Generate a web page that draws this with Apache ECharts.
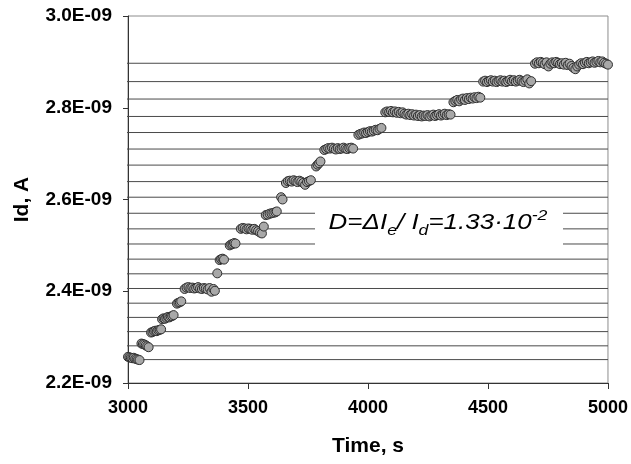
<!DOCTYPE html>
<html>
<head>
<meta charset="utf-8">
<script src="https://cdn.jsdelivr.net/npm/echarts@6/dist/echarts.min.js"></script>
<style>
  html, body { margin: 0; padding: 0; background: #fff; }
  #chart { width: 631px; height: 464px; }
</style>
</head>
<body>
<div id="chart"></div>
<script>
// time, s  (one row per current step)
const timeS = [
  3000, 3006, 3012, 3018, 3024, 3030, 3036, 3042, 3048,
  3056, 3062, 3068, 3074, 3080, 3086,
  3096, 3102, 3108, 3114, 3120, 3126, 3132, 3138,
  3142, 3148, 3154, 3160, 3166, 3172, 3178, 3184, 3190,
  3204, 3210, 3216, 3222,
  3236, 3244, 3252, 3260, 3268, 3276, 3284, 3292, 3300, 3308, 3316, 3324, 3332, 3340, 3348, 3356, 3362,
  3372,
  3382, 3388, 3394, 3400,
  3424, 3430, 3436, 3442, 3448,
  3470, 3478, 3486, 3494, 3502, 3510, 3518, 3526, 3534, 3542, 3550, 3558, 3566,
  3574, 3582, 3590, 3598, 3606, 3614, 3620,
  3638, 3644,
  3658, 3666, 3674, 3682, 3690, 3698, 3706, 3714, 3722, 3730, 3738, 3746, 3754, 3762,
  3784, 3790, 3796, 3802,
  3818, 3826, 3834, 3842, 3850, 3858, 3866, 3874, 3882, 3890, 3898, 3906, 3914, 3922, 3930, 3938,
  3960, 3968, 3976, 3984, 3992, 4000, 4008, 4016, 4024, 4032, 4040, 4048, 4056,
  4072, 4080, 4088, 4096, 4104, 4112, 4120, 4128, 4136, 4144, 4152, 4160, 4168, 4176, 4184, 4192, 4200, 4208,
  4216, 4224, 4232, 4240, 4248, 4256, 4264, 4272, 4280, 4288, 4296, 4304, 4312, 4320, 4328, 4336, 4344,
  4356, 4364, 4372, 4380, 4388, 4396, 4404, 4412, 4420, 4428, 4436, 4444, 4452, 4460, 4468,
  4480, 4488, 4496, 4504, 4512, 4520, 4528, 4536, 4544, 4552, 4560, 4568, 4576, 4584, 4592, 4600, 4608,
  4616, 4624, 4632, 4640, 4648, 4656, 4664, 4672, 4680,
  4696, 4704, 4712, 4720, 4728, 4736, 4744, 4752, 4760, 4768, 4776, 4784, 4792, 4800, 4808, 4816, 4824, 4832,
  4840, 4848, 4856, 4864, 4872, 4880, 4888, 4896, 4904, 4912, 4920, 4928, 4936, 4944, 4952, 4960, 4968, 4976,
  4984, 4992, 5000
]

// Id in units of 1E-09 A, same order as timeS
const idNanoA = [
  2.257, 2.256, 2.255, 2.254, 2.255, 2.253, 2.252, 2.251, 2.250,
  2.286, 2.285, 2.284, 2.282, 2.280, 2.278,
  2.310, 2.311, 2.313, 2.314, 2.313, 2.315, 2.316, 2.317,
  2.339, 2.341, 2.340, 2.342, 2.344, 2.343, 2.345, 2.346, 2.348,
  2.373, 2.375, 2.376, 2.378,
  2.405, 2.408, 2.409, 2.407, 2.408, 2.406, 2.407, 2.409, 2.406, 2.405, 2.407, 2.406, 2.404, 2.407, 2.399, 2.405, 2.401,
  2.439,
  2.468, 2.470, 2.471, 2.469,
  2.500, 2.502, 2.503, 2.505, 2.504,
  2.536, 2.538, 2.537, 2.535, 2.537, 2.536, 2.534, 2.536, 2.533, 2.531, 2.528, 2.526, 2.541,
  2.566, 2.567, 2.569, 2.570, 2.571, 2.572, 2.574,
  2.605, 2.600,
  2.636, 2.640, 2.641, 2.639, 2.642, 2.640, 2.638, 2.641, 2.639, 2.636, 2.632, 2.638, 2.640, 2.642,
  2.672, 2.676, 2.679, 2.683,
  2.708, 2.710, 2.712, 2.711, 2.713, 2.711, 2.709, 2.712, 2.710, 2.711, 2.713, 2.711, 2.710, 2.712, 2.713, 2.711,
  2.741, 2.743, 2.744, 2.746, 2.745, 2.747, 2.749, 2.748, 2.750, 2.752, 2.751, 2.754, 2.756,
  2.790, 2.792, 2.791, 2.793, 2.790, 2.792, 2.789, 2.791, 2.788, 2.790, 2.787, 2.785, 2.787, 2.784, 2.786, 2.783, 2.785, 2.782,
  2.784, 2.781, 2.783, 2.782, 2.784, 2.781, 2.783, 2.785, 2.782, 2.784, 2.786, 2.783, 2.785, 2.787, 2.784, 2.786, 2.785,
  2.812, 2.815, 2.817, 2.814, 2.818, 2.820, 2.817, 2.821, 2.819, 2.822, 2.820, 2.823, 2.821, 2.824, 2.822,
  2.857, 2.859, 2.856, 2.858, 2.860, 2.857, 2.859, 2.856, 2.858, 2.860, 2.857, 2.859, 2.856, 2.858, 2.861, 2.858, 2.860,
  2.857, 2.859, 2.861, 2.858, 2.856, 2.859, 2.862, 2.853, 2.858,
  2.896, 2.899, 2.897, 2.900, 2.898, 2.895, 2.899, 2.890, 2.896, 2.899, 2.897, 2.900, 2.898, 2.895, 2.897, 2.894, 2.898, 2.893,
  2.896, 2.891, 2.887, 2.884, 2.890, 2.894, 2.897, 2.895, 2.898, 2.900, 2.897, 2.899, 2.901, 2.898, 2.900, 2.902, 2.899, 2.901,
  2.898, 2.896, 2.894
]

// horizontal guide lines at each current level (1E-09 A)
const levelNanoA = [
  2.251, 2.281, 2.312, 2.343, 2.374, 2.406, 2.438, 2.470, 2.503, 2.536,
  2.570, 2.605, 2.639, 2.675, 2.710, 2.746, 2.781, 2.819, 2.857, 2.897
]

const xTicks = { min: 3000, max: 5000, step: 500 }
const yTicks = { min: 2.2, max: 3.0, step: 0.2 }
const lineStart = 2984

const chart = echarts.init(document.getElementById('chart'))
const font = 'Liberation Sans, Arial, sans-serif'

const levelSeries = levelNanoA.map(v => ({
  type: 'line',
  data: [[lineStart, v], [xTicks.max, v]],
  clip: false,
  silent: true,
  symbol: 'none',
  z: 1,
  lineStyle: { color: '#4a4a4a', width: 1 }
}))

const op = {
  animation: false,
  grid: {
    left: 128,
    right: 22,
    top: 16,
    bottom: 81,
    show: true,
    borderColor: '#8c8c8c',
    borderWidth: 1
  },
  xAxis: {
    type: 'value',
    min: xTicks.min,
    max: xTicks.max,
    interval: xTicks.step,
    name: 'Time, s',
    nameLocation: 'middle',
    nameGap: 53,
    nameTextStyle: { fontFamily: font, fontWeight: 'bold', fontSize: 21, color: '#000' },
    axisLine: { lineStyle: { color: '#333', width: 1 } },
    axisTick: { length: 6, lineStyle: { color: '#333' } },
    splitLine: { show: false },
    axisLabel: {
      fontFamily: font,
      fontWeight: 'bold',
      fontSize: 18,
      color: '#000',
      margin: 16,
      formatter: v => String(v)
    }
  },
  yAxis: {
    type: 'value',
    min: yTicks.min,
    max: yTicks.max,
    interval: yTicks.step,
    name: 'Id, A',
    nameLocation: 'middle',
    nameRotate: 90,
    nameGap: 95,
    nameTextStyle: { fontFamily: font, fontWeight: 'bold', fontSize: 21, color: '#000' },
    axisLine: { show: true, lineStyle: { color: '#333', width: 1 } },
    axisTick: { show: true, length: 5, lineStyle: { color: '#333' } },
    splitLine: { show: false },
    axisLabel: {
      fontFamily: font,
      fontWeight: 'bold',
      fontSize: 19,
      color: '#000',
      margin: 16,
      formatter: v => v.toFixed(1) + 'E-09'
    }
  },
  graphic: [
    {
      type: 'rect',
      z: 10,
      shape: { x: 315, y: 200, width: 248, height: 56 },
      style: { fill: '#fff' }
    },
    {
      type: 'text',
      z: 11,
      x: 438,
      y: 223,
      scaleX: 1.18,
      style: {
        text: '{m|D=ΔI}{s|e}{m|/ I}{s|d}{m|=1.33·10}{p|-2}',
        align: 'center',
        verticalAlign: 'middle',
        fill: '#000',
        rich: {
          m: { fontFamily: font, fontStyle: 'italic', fontSize: 22, lineHeight: 30, verticalAlign: 'middle' },
          s: { fontFamily: font, fontStyle: 'italic', fontSize: 15, lineHeight: 2, verticalAlign: 'bottom' },
          p: { fontFamily: font, fontStyle: 'italic', fontSize: 15, lineHeight: 19, verticalAlign: 'top' }
        }
      }
    }
  ],
  series: levelSeries.concat([
    {
      name: 'Id',
      type: 'scatter',
      clip: false,
      z: 3,
      symbol: 'circle',
      symbolSize: 9,
      data: timeS.map((t, i) => [t, idNanoA[i]]),
      itemStyle: { color: '#a8a8a8', borderColor: '#2e2e2e', borderWidth: 1, opacity: 1 }
    }
  ])
}

chart.setOption(op)
</script>
</body>
</html>
